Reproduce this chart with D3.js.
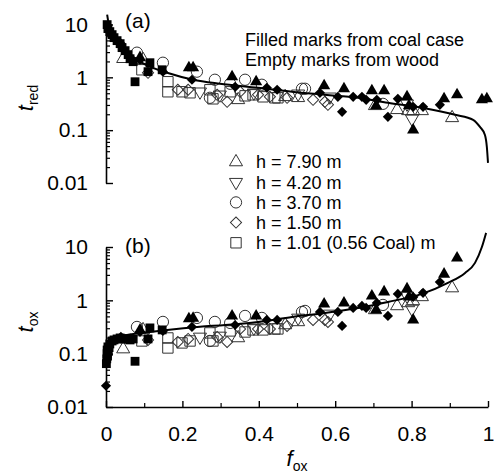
<!DOCTYPE html>
<html><head><meta charset="utf-8">
<script src="https://cdn.jsdelivr.net/npm/d3@7"></script>
<style>body{margin:0;background:#fff} svg{display:block} text{font-family:"Liberation Sans",Arial,sans-serif}</style>
</head><body><svg id="c" width="494" height="475"></svg>
<script>
const fTicks=[0,0.2,0.4,0.6,0.8,1];
const fMinor=[0.1,0.3,0.5,0.7,0.9];
const tTicks=[0.01,0.1,1,10];
const tMinor=[0.02,0.03,0.04,0.05,0.06,0.07,0.08,0.09,0.2,0.3,0.4,0.5,0.6,0.7,0.8,0.9,2,3,4,5,6,7,8,9];

// [f_ox, t_red, t_ox]
const coalSquare=[[0.003,9.95,0.117],[0.005,8.36,0.134],[0.010,7.33,0.152],[0.016,6.43,0.173],[0.021,5.64,0.181],[0.029,4.95,0.189],[0.037,4.34,0.197],[0.042,3.65,0.189],[0.050,3.20,0.189],[0.058,2.69,0.189],[0.063,2.25,0.181],[0.071,1.98,0.189],[0.115,1.89,0.304],[0.110,1.28,0.189],[0.147,1.39,0.279],[0.076,0.825,0.072],[0.001,null,0.065],[0.002,null,0.08],[0.003,null,0.1],[0.004,null,0.09],[0.006,null,0.11],[0.008,null,0.13]];
const coalDiamond=[[0.039,4.34,0.206],[0.089,2.16,0.255],[0.149,1.28,0.267],[0.225,0.90,0.317],[0.338,0.663,0.345],[0.421,0.635,0.429],[0.448,0.582,0.429],[0.560,0.510,0.606],[0.607,0.428,0.606],[0.618,0.222,0.331],[0.647,0.428,0.720],[0.670,0.428,0.785],[0.681,0.375,0.72],[0.709,0.375,0.894],[0.764,0.392,1.32],[0.738,0.179,0.51],[0.804,0.277,1.16],[0.830,0.277,1.38],[0.874,0.302,2.2],[0.0,null,0.025]];
const coalTri=[[0.089,2.36,0.279],[0.217,1.52,0.45],[0.228,1.52,0.46],[0.330,1.03,0.51],[0.393,0.825,0.51],[0.571,0.693,0.856],[0.623,0.608,0.894],[0.696,0.557,1.21],[0.728,0.557,1.44],[0.707,0.289,0.661],[0.788,0.428,1.64],[0.793,0.289,1.16],[0.885,0.392,3.1],[0.919,0.467,6.2],[0.984,0.375,null],[0.997,0.392,null],[0.804,0.101,0.429]];
const wood790=[[0.045,2.25,0.122],[0.097,2.16,0.279],[0.346,0.375,0.197],[0.469,0.428,0.345],[0.503,0.410,0.394],[0.704,0.289,0.661],[0.762,0.243,0.785],[0.791,0.232,0.894],[0.804,0.232,0.974],[0.827,0.232,1.16],[0.906,0.171,1.7]];
const wood420=[[0.246,0.533,0.206],[0.298,0.467,0.215],[0.387,0.510,0.304],[0.503,0.488,0.468],[0.586,0.428,0.556],[0.788,0.315,1.21],[0.801,0.164,0.69]];
const wood370=[[0.081,2.93,0.317],[0.149,1.89,0.394],[0.238,1.28,0.468],[0.285,0.90,0.394],[0.325,0.756,0.377],[0.364,0.90,0.51],[0.408,0.724,0.468],[0.513,0.608,0.606],[0.521,0.608,0.633],[0.725,0.315,0.82],[0.272,0.410,0.173]];
const wood150=[[0.110,1.22,0.181],[0.188,0.582,0.166],[0.215,0.582,0.189],[0.291,0.467,0.206],[0.317,0.344,0.166],[0.351,0.533,0.291],[0.398,0.467,0.291],[0.429,0.428,0.291],[0.474,0.410,0.331],[0.542,0.375,0.429],[0.573,0.344,0.429],[0.581,0.302,0.394]];
const wood101=[[0.094,1.39,0.173],[0.162,0.825,0.197],[0.162,0.533,0.128],[0.199,0.533,0.159],[0.220,0.510,0.173],[0.272,0.582,0.245],[0.280,0.392,0.173],[0.325,0.533,0.267],[0.364,0.447,0.255],[0.385,0.467,0.279],[0.411,0.428,0.279],[0.442,0.410,0.291],[0.450,0.410,0.291]];

const curveRed=[[0.003,15.4],[0.0105,8.0],[0.037,4.54],[0.071,2.46],[0.115,1.59],[0.16,1.22],[0.228,0.90],[0.298,0.757],[0.398,0.635],[0.487,0.533],[0.573,0.468],[0.66,0.41],[0.738,0.33],[0.827,0.265],[0.914,0.195],[0.961,0.157],[0.979,0.115],[0.992,0.081],[0.997,0.048],[1.0,0.024]];
const curveOx=[[0.0,0.108],[0.010,0.166],[0.037,0.206],[0.071,0.234],[0.115,0.255],[0.16,0.279],[0.246,0.32],[0.312,0.345],[0.398,0.394],[0.487,0.488],[0.573,0.58],[0.66,0.72],[0.738,0.933],[0.827,1.32],[0.895,2.12],[0.94,3.27],[0.966,5.04],[0.984,10],[0.995,18.4]];

const legendLabels=["h = 7.90 m","h = 4.20 m","h = 3.70 m","h = 1.50 m","h = 1.01 (0.56 Coal) m"];
const noteLines=["Filled marks from coal case","Empty marks from wood"];

const svg=d3.select("#c");
svg.append("rect").attr("width",494).attr("height",475).attr("fill","#fff");
const FONT='"Liberation Sans",Arial,sans-serif';

const x=d3.scaleLinear().domain([0,1]).range([106,488]);
const yTop=d3.scaleLog().domain([0.01,10]).range([183,24.5]);
const yBot=d3.scaleLog().domain([0.01,10]).range([407,247]);

const shapes={
  tri:{type:d3.symbolTriangle,size:74,rot:0},
  itri:{type:d3.symbolTriangle,size:74,rot:180},
  circle:{type:d3.symbolCircle,size:100,rot:0},
  diamond:{type:d3.symbolSquare,size:62,rot:45},
  square:{type:d3.symbolSquare,size:108,rot:0}
};
const fillShapes={
  tri:{type:d3.symbolTriangle,size:64,rot:0},
  diamond:{type:d3.symbolSquare,size:52,rot:45},
  square:{type:d3.symbolSquare,size:78,rot:0}
};
const emptySeries=[{d:wood790,s:"tri"},{d:wood420,s:"itri"},{d:wood370,s:"circle"},{d:wood150,s:"diamond"},{d:wood101,s:"square"}];
const filledSeries=[{d:coalTri,s:"tri"},{d:coalDiamond,s:"diamond"},{d:coalSquare,s:"square"}];

function drawPanel(y,idx,curve,showX,label,labelY,titleSub,titleY){
  const g=svg.append("g");
  emptySeries.forEach(sr=>{
    const sh=shapes[sr.s];
    g.selectAll(null).data(sr.d.filter(p=>p[idx]!=null)).join("path")
      .attr("d",d3.symbol().type(sh.type).size(sh.size))
      .attr("transform",p=>`translate(${x(p[0])},${y(p[idx])}) rotate(${sh.rot})`)
      .attr("fill","none").attr("stroke","#333").attr("stroke-width",1);
  });
  g.append("path").datum(curve)
    .attr("d",d3.line().x(p=>x(p[0])).y(p=>y(p[1])).curve(d3.curveMonotoneX))
    .attr("fill","none").attr("stroke","#000").attr("stroke-width",2);
  filledSeries.forEach(sr=>{
    const sh=fillShapes[sr.s];
    g.selectAll(null).data(sr.d.filter(p=>p[idx]!=null)).join("path")
      .attr("d",d3.symbol().type(sh.type).size(sh.size))
      .attr("transform",p=>`translate(${x(p[0])},${y(p[idx])}) rotate(${sh.rot})`)
      .attr("fill","#000");
  });
  const ya=g.append("g").attr("transform","translate(106,0)")
    .call(d3.axisLeft(y).tickValues(tTicks).tickSizeInner(-7).tickSizeOuter(0).tickPadding(18).tickFormat(d=>String(d)));
  ya.selectAll("text").attr("font-size",21).attr("font-family",FONT).attr("fill","#000");
  ya.select(".domain").attr("stroke-width",1.6);
  ya.selectAll(".tick line").attr("stroke-width",1.4);
  const ym=g.append("g").attr("transform","translate(106,0)")
    .call(d3.axisLeft(y).tickValues(tMinor).tickSizeInner(-4).tickSizeOuter(0).tickFormat(""));
  ym.select(".domain").remove();
  ym.selectAll(".tick line").attr("stroke-width",1.2);
  if(showX){
    const xa=g.append("g").attr("transform",`translate(0,${y.range()[0]})`)
      .call(d3.axisBottom(x).tickValues(fTicks).tickSizeInner(-6).tickSizeOuter(0).tickPadding(19).tickFormat(d=>String(d)));
    xa.selectAll("text").attr("font-size",21).attr("font-family",FONT).attr("fill","#000");
    xa.select(".domain").attr("stroke-width",1.6);
    xa.selectAll(".tick line").attr("stroke-width",1.4);
    const xm=g.append("g").attr("transform",`translate(0,${y.range()[0]})`)
      .call(d3.axisBottom(x).tickValues(fMinor).tickSizeInner(-4).tickSizeOuter(0).tickFormat(""));
    xm.select(".domain").remove();
    xm.selectAll(".tick line").attr("stroke-width",1.2);
  }
  g.append("text").attr("x",125).attr("y",labelY).attr("font-size",21).attr("font-family",FONT).text(label);
  const t=g.append("text").attr("transform",`translate(33,${titleY}) rotate(-90)`).attr("text-anchor","middle").attr("font-family",FONT);
  t.append("tspan").attr("font-size",22).attr("font-style","italic").text("t");
  t.append("tspan").attr("font-size",14).attr("dy",5).text(titleSub);
}

drawPanel(yTop,1,curveRed,false,"(a)",28,"red",98);
drawPanel(yBot,2,curveOx,true,"(b)",253,"ox",322);

const xt=svg.append("text").attr("x",297).attr("y",466).attr("text-anchor","middle").attr("font-family",FONT);
xt.append("tspan").attr("font-size",22).attr("font-style","italic").text("f");
xt.append("tspan").attr("font-size",14).attr("dy",5).text("ox");

svg.selectAll(".note").data(noteLines).join("text")
  .attr("x",245).attr("y",(d,i)=>46+i*20).attr("font-size",18).attr("font-family",FONT).text(d=>d);

const legShapes=["tri","itri","circle","diamond","square"];
const lg=svg.append("g");
legendLabels.forEach((lab,i)=>{
  const cy=162+i*20.2;
  const sh=shapes[legShapes[i]];
  lg.append("path").attr("d",d3.symbol().type(sh.type).size(sh.size))
    .attr("transform",`translate(236,${cy}) rotate(${sh.rot})`)
    .attr("fill","none").attr("stroke","#333").attr("stroke-width",1);
  lg.append("text").attr("x",256).attr("y",cy).attr("dy","0.36em").attr("font-size",18).attr("font-family",FONT).text(lab);
});
</script></body></html>
